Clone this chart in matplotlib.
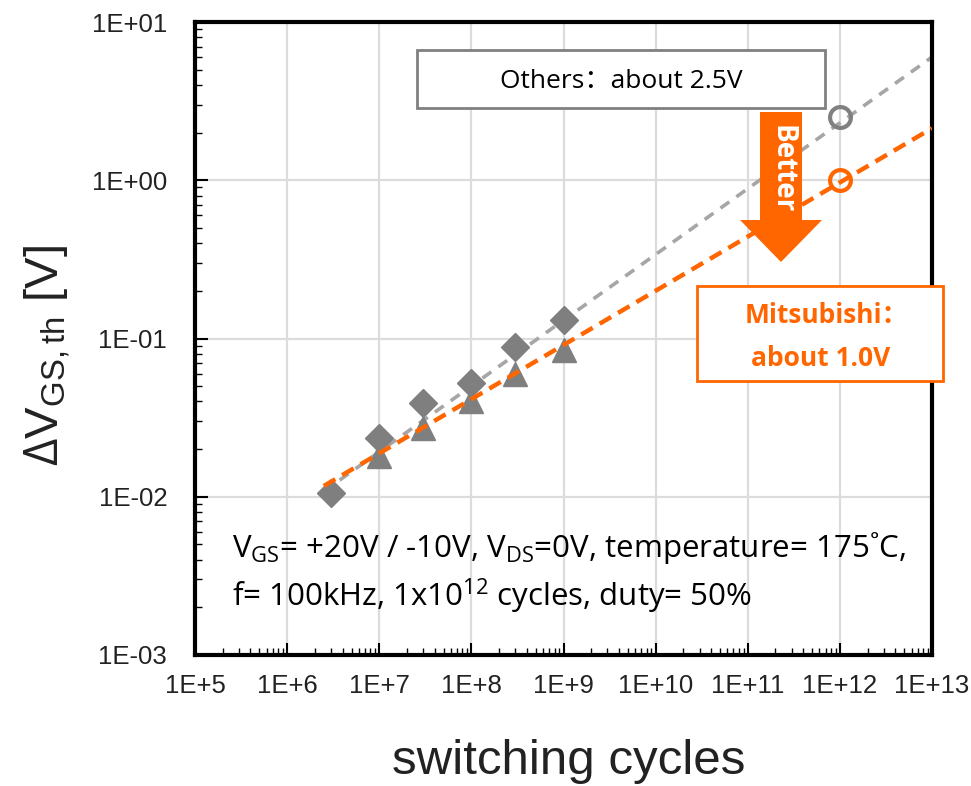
import matplotlib
matplotlib.use('Agg')
import matplotlib.pyplot as plt
from matplotlib.patches import Rectangle, Polygon
from matplotlib.ticker import LogLocator, NullFormatter

plt.rcParams['mathtext.fontset'] = 'custom'
plt.rcParams['mathtext.rm'] = 'Open Sans'

# ---------------- data ----------------
xticks = [1e5, 1e6, 1e7, 1e8, 1e9, 1e10, 1e11, 1e12, 1e13]
xtick_labels = ['1E+5', '1E+6', '1E+7', '1E+8', '1E+9', '1E+10', '1E+11', '1E+12', '1E+13']
yticks = [1e-3, 1e-2, 1e-1, 1e0, 1e1]
ytick_labels = ['1E-03', '1E-02', '1E-01', '1E+00', '1E+01']

others_cycles = [3e6, 1e7, 3e7, 1e8, 3e8, 1e9]
others_dv = [0.0106, 0.0236, 0.039, 0.052, 0.088, 0.13]
mitsu_cycles = [1e7, 3e7, 1e8, 3e8, 1e9]
mitsu_dv = [0.018, 0.027, 0.0405, 0.060, 0.084]

fit_cycles = [2.5e6, 1e13]
fit_others = [0.0108, 6.0]
fit_mitsu = [0.0117, 2.13]

target_cycles = [1e12]
target_others = [2.5]
target_mitsu = [1.0]

# ---------------- figure ----------------
W, H = 971, 786
fig = plt.figure(figsize=(W / 100, H / 100), dpi=100)
ax = fig.add_axes([195 / W, 1 - 655 / H, (932 - 195) / W, (655 - 22) / H])


def fx(px):
    return px / W


def fy(py):
    return 1 - py / H


ax.set_xscale('log')
ax.set_yscale('log')
ax.set_xlim(1e5, 1e13)
ax.set_ylim(1e-3, 1e1)

tick_font = dict(family='Liberation Sans', size=18.5, color='#222222')
ax.set_xticks(xticks)
ax.set_xticklabels(xtick_labels, **tick_font)
ax.set_yticks(yticks)
ax.set_yticklabels(ytick_labels, **tick_font)
for axis in (ax.xaxis, ax.yaxis):
    axis.set_minor_locator(LogLocator(base=10, subs=range(2, 10), numticks=100))
    axis.set_minor_formatter(NullFormatter())

ax.tick_params(which='both', direction='in', top=False, right=False, color='black')
ax.tick_params(which='major', length=9, width=1.5)
ax.tick_params(which='minor', length=5, width=1.0)
ax.tick_params(axis='x', which='major', pad=14)
ax.tick_params(axis='y', which='major', pad=20)

for s in ax.spines.values():
    s.set_linewidth(3)
    s.set_color('black')

ax.grid(True, which='major', color='#dcdcdc', lw=1.6)
ax.set_axisbelow(True)

# fitted lines & data
ax.plot(fit_cycles, fit_others, color='#a6a6a6', lw=2.6, dashes=(3, 2.4), zorder=2)
ax.plot(others_cycles, others_dv, 'D', ms=14, color='#7f7f7f', zorder=3)
ax.plot(mitsu_cycles, mitsu_dv, '^', ms=17, color='#7f7f7f', zorder=3)
ax.plot(fit_cycles, fit_mitsu, color='#ff6600', lw=3.2, dashes=(3, 1.8), zorder=4)
ax.plot(target_cycles, target_others, 'o', mfc='none', mec='#808080', mew=3, ms=15, zorder=5)
ax.plot(target_cycles, target_mitsu, 'o', mfc='none', mec='#ff6600', mew=3, ms=15, zorder=5)

# axis labels
fig.text(fx(48), fy(355), r'$\Delta$V$_{\mathregular{GS,th}}$ [V]', rotation=90,
         ha='center', va='center', family='Liberation Sans', size=34, color='#222222')
fig.text(fx(569), fy(762), 'switching cycles', ha='center', va='center',
         family='Liberation Sans', size=35.5, color='#222222')

cjk = ['Open Sans', 'Noto Sans CJK SC', 'DejaVu Sans']

# Others box
ax.add_patch(Rectangle((fx(417), fy(108)), (825 - 417) / W, (108 - 50) / H,
                       transform=fig.transFigure, fc='white', ec='#808080', lw=2,
                       clip_on=False, zorder=6))
ax.text(fx(621), fy(81), 'Others：about 2.5V', transform=fig.transFigure,
        ha='center', va='center', fontsize=19, family=cjk, color='black', zorder=7)

# Better arrow
arrow_px = [(760, 112), (802, 112), (802, 220), (822, 220), (781, 262), (740, 220), (760, 220)]
ax.add_patch(Polygon([(fx(a), fy(b)) for a, b in arrow_px], closed=True,
                     transform=fig.transFigure, fc='#ff6600', ec='none',
                     clip_on=False, zorder=6))
ax.text(fx(782), fy(169), 'Better', rotation=-90, transform=fig.transFigure,
        ha='center', va='center', fontsize=20, fontweight='bold', family='Open Sans',
        color='white', zorder=7)

# Mitsubishi box
ax.add_patch(Rectangle((fx(697), fy(381)), (943 - 697) / W, (381 - 286) / H,
                       transform=fig.transFigure, fc='white', ec='#ff6600', lw=2,
                       clip_on=False, zorder=6))
ax.text(fx(827), fy(316), 'Mitsubishi：', transform=fig.transFigure,
        ha='center', va='center', fontsize=19, fontweight='bold', family=cjk,
        color='#ff6600', zorder=7)
ax.text(fx(821), fy(358), 'about 1.0V', transform=fig.transFigure,
        ha='center', va='center', fontsize=19, fontweight='bold', family=cjk,
        color='#ff6600', zorder=7)

# conditions text
ax.text(fx(232), fy(557),
        r'V$_{\mathregular{GS}}$= +20V / -10V, V$_{\mathregular{DS}}$=0V, temperature= 175˚C,',
        transform=fig.transFigure, ha='left', va='baseline', fontsize=22.5,
        family='Open Sans', color='black', zorder=7)
ax.text(fx(232), fy(606),
        r'f= 100kHz, 1x10$^{\mathregular{12}}$ cycles, duty= 50%',
        transform=fig.transFigure, ha='left', va='baseline', fontsize=22.5,
        family='Open Sans', color='black', zorder=7)

fig.savefig('out.png', dpi=100)
